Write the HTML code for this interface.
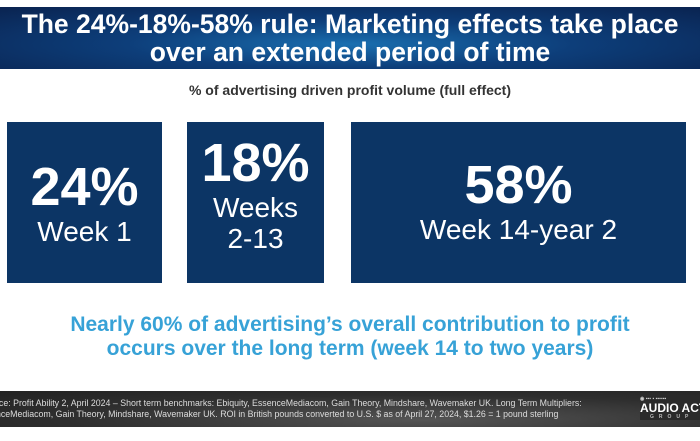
<!DOCTYPE html>
<html><head><style>
body{margin:0;width:700px;height:441px;background:#fff;position:relative;overflow:hidden;font-family:"Liberation Sans",sans-serif}
.hdr{position:absolute;left:0;top:7px;width:700px;height:62px;background:radial-gradient(ellipse at 50% 60%,#1a6fb0 0%,#0d3e7a 45%,#0a2350 100%);color:#fff;text-align:center;font-size:26.5px;line-height:28px;padding-top:3px;box-sizing:border-box;font-weight:bold}
.sub{position:absolute;top:82px;width:700px;text-align:center;font-size:14px;color:#333;font-weight:bold}
.box{position:absolute;top:122px;height:161px;background:#0c3565;color:#fff;text-align:center}
.big{font-weight:bold;font-size:54px;line-height:58px}
.sm{font-size:28px;line-height:31px}
.note{position:absolute;top:313px;width:700px;text-align:center;color:#37a2d7;font-weight:bold;font-size:21px;line-height:24px}
.ftr{position:absolute;left:0;top:391px;width:700px;height:36px;background:radial-gradient(ellipse at 60% 80%,#555 0%,#2e2e2e 60%,#222 100%);color:#ddd;font-size:8.8px;line-height:11px;padding:7px 0 0 0;box-sizing:border-box;white-space:nowrap}
.logo{position:absolute;right:-6px;top:5px;color:#fff;font-weight:bold;font-size:12px;text-align:left;width:66px;background:#2a2a2a}
</style></head><body>
<div class="hdr">The 24%-18%-58% rule: Marketing effects take place<br>over an extended period of time</div>
<div class="sub">% of advertising driven profit volume (full effect)</div>
<div class="box" style="left:7px;width:155px"><div class="big" style="margin-top:36px">24%</div><div class="sm">Week 1</div></div>
<div class="box" style="left:187px;width:137px"><div class="big" style="margin-top:12px">18%</div><div class="sm">Weeks<br>2-13</div></div>
<div class="box" style="left:351px;width:335px"><div class="big" style="margin-top:34px">58%</div><div class="sm">Week 14-year 2</div></div>
<div class="note">Nearly 60% of advertising’s overall contribution to profit<br>occurs over the long term (week 14 to two years)</div>
<div class="ftr"><div style="margin-left:-4px">rce: Profit Ability 2, April 2024 – Short term benchmarks: Ebiquity, EssenceMediacom, Gain Theory, Mindshare, Wavemaker UK. Long Term Multipliers:</div><div style="margin-left:-4px">nceMediacom, Gain Theory, Mindshare, Wavemaker UK. ROI in British pounds converted to U.S. $ as of April 27, 2024, $1.26 = 1 pound sterling</div>
<div class="logo"><div style="font-size:5px;line-height:7px;color:#ccc">◉ ▪▪▪ ▪ ▪▪▪▪▪▪</div>AUDIO ACTIV<div style="font-size:5px;letter-spacing:5px;color:#bbb;line-height:6px;margin-left:10px">GROUP</div></div></div>
</body></html>
